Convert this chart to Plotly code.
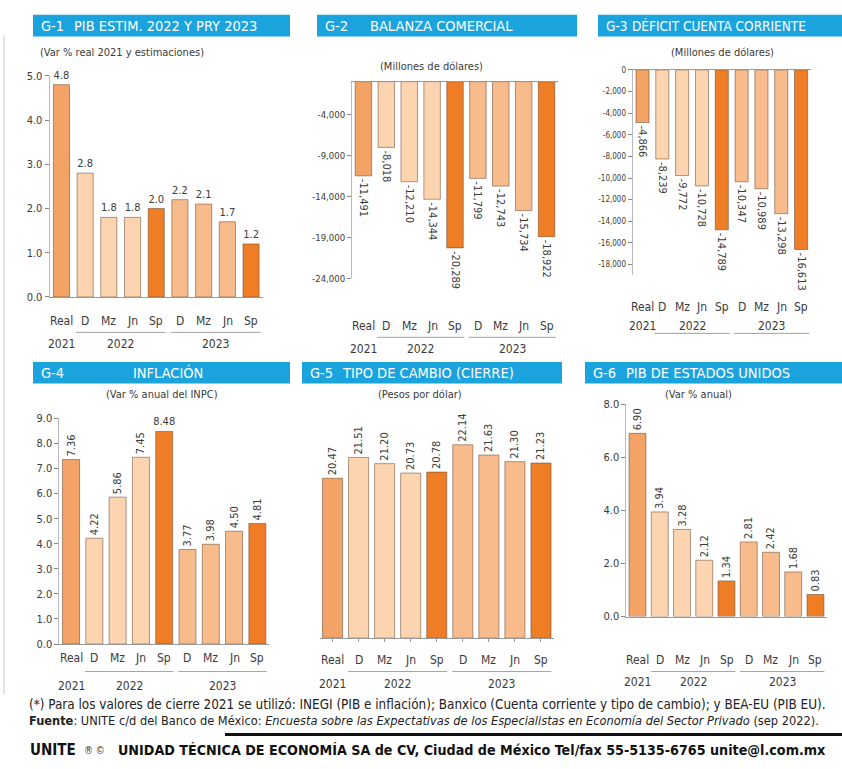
import plotly.graph_objects as go

W, H = 842, 769

# ---- data -------------------------------------------------------------
cats = ["Real", "D", "Mz", "Jn", "Sp", "D", "Mz", "Jn", "Sp"]
years = ["2021", "2022", "2023"]

pib_mx = [4.8, 2.8, 1.8, 1.8, 2.0, 2.2, 2.1, 1.7, 1.2]
balanza = [-11491, -8018, -12210, -14344, -20289, -11799, -12743, -15734, -18922]
cuenta_corriente = [-4866, -8239, -9772, -10728, -14789, -10347, -10989, -13298, -16613]
inflacion = [7.36, 4.22, 5.86, 7.45, 8.48, 3.77, 3.98, 4.50, 4.81]
tipo_cambio = [20.47, 21.51, 21.20, 20.73, 20.78, 22.14, 21.63, 21.30, 21.23]
pib_eu = [6.90, 3.94, 3.28, 2.12, 1.34, 2.81, 2.42, 1.68, 0.83]

# ---- styling ----------------------------------------------------------
FONT = "Liberation Sans Narrow, DejaVu Sans Condensed, Roboto Condensed, Roboto, sans-serif"
BLUE = "#1BA3DE"
C_REAL = "#F3A365"
C_LIGHT = "#FCD5B0"
C_MED = "#F8BC8C"
C_SP = "#EE7D26"
TXT = "#3a3a3a"
colors = [C_REAL, C_LIGHT, C_LIGHT, C_LIGHT, C_SP, C_MED, C_MED, C_MED, C_SP]


def px(x):
    return x / W


def py(y):
    return 1 - y / H


def fmt_thousands(v):
    return f"{v:,.0f}"


# panel geometry (pixel boxes) and axis settings
panels = [
    dict(vals=pib_mx, fmt=lambda v: f"{v:.1f}", xd=(49.6, 262.9), yd=(296, 71),
         yr=[0, 5], tv=[0, 1, 2, 3, 4, 5], tt=["0.0", "1.0", "2.0", "3.0", "4.0", "5.0"],
         angle=0, horiz=list(range(9)), width=0.68, cat_y=320, year_y=344, line_y=332, tfs=11),
    dict(vals=balanza, fmt=fmt_thousands, xd=(352, 558), yd=(277, 77),
         yr=[-24000, 0], tv=[-4000, -9000, -14000, -19000, -24000],
         tt=["-4,000", "-9,000", "-14,000", "-19,000", "-24,000"],
         angle=90, horiz=[], width=0.72, cat_y=325, year_y=349, line_y=337, tfs=9.5),
    dict(vals=cuenta_corriente, fmt=fmt_thousands, xd=(632.6, 811), yd=(274, 65),
         yr=[-19000, 0], tv=[0, -2000, -4000, -6000, -8000, -10000, -12000, -14000, -16000, -18000],
         tt=["0", "-2,000", "-4,000", "-6,000", "-8,000", "-10,000", "-12,000", "-14,000", "-16,000", "-18,000"],
         angle=90, horiz=[], width=0.66, cat_y=306, year_y=326, line_y=333, tfs=8),
    dict(vals=inflacion, fmt=lambda v: f"{v:.2f}", xd=(59.4, 269), yd=(649, 419.5),
         yr=[0, 9], tv=list(range(10)), tt=[f"{i}.0" for i in range(10)],
         angle=-90, horiz=[4], width=0.73, cat_y=663, year_y=692, line_y=677, tfs=11),
    dict(vals=tipo_cambio, fmt=lambda v: f"{v:.2f}", xd=(319.5, 554), yd=(643, 439),
         yr=[12.5, 22.5], tv=None, tt=None,
         angle=-90, horiz=[], width=0.77, cat_y=665, year_y=690, line_y=677, tfs=11),
    dict(vals=pib_eu, fmt=lambda v: f"{v:.2f}", xd=(626.4, 826.6), yd=(621, 405),
         yr=[0, 8], tv=[0, 2, 4, 6, 8], tt=["0.0", "2.0", "4.0", "6.0", "8.0"],
         angle=-90, horiz=[], width=0.76, cat_y=665, year_y=688, line_y=677, tfs=11),
]

fig = go.Figure()
annotations = []
shapes = []
layout_axes = {}


def note(x, y, text, size, color=TXT, xanchor="center", xref="paper", **kw):
    annotations.append(dict(x=x, y=y, xref=xref, yref="paper", text=text,
                            xanchor=xanchor, yanchor="middle", showarrow=False,
                            font=dict(family=FONT, size=size, color=color), **kw))


for k, p in enumerate(panels, start=1):
    xa = "x" if k == 1 else f"x{k}"
    ya = "y" if k == 1 else f"y{k}"
    floor = p["yr"][0] if k == 5 else 0
    idx_groups = [[i for i in range(9) if i not in p["horiz"]], p["horiz"]]
    for grp, ang in zip(idx_groups, [p["angle"], 0]):
        if not grp:
            continue
        fig.add_trace(go.Bar(
            x=grp,
            y=[p["vals"][i] - floor for i in grp],
            base=floor,
            width=p["width"],
            marker=dict(color=[colors[i] for i in grp],
                        line=dict(color="rgba(105,75,55,0.55)", width=1)),
            text=[p["fmt"](p["vals"][i]) for i in grp],
            textposition="outside",
            textangle=ang,
            constraintext="none",
            cliponaxis=False,
            textfont=dict(family=FONT, size=11, color=TXT),
            hoverinfo="skip",
            xaxis=xa, yaxis=ya,
        ))

    neg = p["yr"][1] == 0
    layout_axes["xaxis" if k == 1 else f"xaxis{k}"] = dict(
        domain=[px(p["xd"][0]), px(p["xd"][1])],
        anchor=ya, range=[-0.5, 8.5],
        showticklabels=False, showgrid=False, zeroline=False,
        showline=True, linecolor="#9a9a9a", linewidth=1,
        side="top" if neg else "bottom",
        ticks="outside" if k == 5 else "", ticklen=3, tickcolor="#999",
        tickvals=list(range(9)) if k == 5 else None,
        fixedrange=True,
    )
    yax = dict(
        domain=[py(p["yd"][0]), py(p["yd"][1])],
        anchor=xa, range=p["yr"], showgrid=False, zeroline=False, fixedrange=True,
    )
    if p["tv"] is None:
        yax.update(visible=False)
    else:
        yax.update(tickvals=p["tv"], ticktext=p["tt"], ticks="outside", ticklen=4,
                   tickcolor="#888", showline=True, linecolor="#b8b8c8", linewidth=1,
                   tickfont=dict(family=FONT, size=p["tfs"], color=TXT))
    layout_axes["yaxis" if k == 1 else f"yaxis{k}"] = yax

    # category and year labels
    for i, c in enumerate(cats):
        note(i, py(p["cat_y"]), c, 12, xref=xa)
    for yl, xc in zip(years, [0, 2.5, 6.5]):
        note(xc, py(p["year_y"]), yl, 12, xref=xa)
    for x0, x1 in [(0.6, 4.4), (4.6, 8.4)]:
        shapes.append(dict(type="line", xref=xa, yref="paper", x0=x0, x1=x1,
                           y0=py(p["line_y"]), y1=py(p["line_y"]),
                           line=dict(color="#8a8a8a", width=0.8)))

# ---- header bars ------------------------------------------------------
headers = [
    ((33, 290, 9, 31), "G-1", "PIB ESTIM. 2022 Y PRY 2023", 72, "left", 14.5),
    ((317, 577, 9, 31), "G-2", "BALANZA COMERCIAL", 368, "left", 14.5),
    ((598, 842, 9, 31), "G-3", "DÉFICIT CUENTA CORRIENTE", 630, "left", 13.5),
    ((33, 290, 362, 384), "G-4", "INFLACIÓN", 168, "center", 14.5),
    ((302, 562, 362, 384), "G-5", "TIPO DE CAMBIO (CIERRE)", 340, "left", 14.5),
    ((585, 842, 362, 384), "G-6", "PIB DE ESTADOS UNIDOS", 624, "left", 14.5),
]
for (x0, x1, y0, y1), tag, title, tx, al, fs in headers:
    shapes.append(dict(type="rect", xref="paper", yref="paper",
                       x0=px(x0), x1=px(x1), y0=py(y1), y1=py(y0),
                       fillcolor=BLUE, line=dict(width=0), layer="below"))
    ym = py((y0 + y1) / 2)
    note(px(x0 + 6), ym, tag, fs, color="white", xanchor="left")
    note(px(tx), ym, title, fs, color="white", xanchor=al)

# ---- subtitles --------------------------------------------------------
subs = [
    ("(Var % real 2021 y estimaciones)", 38, 47, "left"),
    ("(Millones de dólares)", 431, 62, "center"),
    ("(Millones de dólares)", 722, 47, "center"),
    ("(Var % anual del INPC)", 162, 395, "center"),
    ("(Pesos por dólar)", 420, 395, "center"),
    ("(Var % anual)", 698, 395, "center"),
]
for t, x, y, al in subs:
    note(px(x), py(y), t, 11, xanchor=al)

# ---- footer -----------------------------------------------------------
note(px(27), py(711),
     "(*) Para los valores de cierre 2021 se utilizó: INEGI (PIB e inflación); "
     "Banxico (Cuenta corriente y tipo de cambio); y BEA-EU (PIB EU).",
     13.4, color="#222", xanchor="left")
note(px(27), py(727),
     "<b>Fuente</b>: UNITE c/d del Banco de México: <i>Encuesta sobre las Expectativas "
     "de los Especialistas en Economía del Sector Privado</i> (sep 2022).",
     12.7, color="#222", xanchor="left")
note(px(28), py(757), "<b>UNITE</b>", 15, color="#111", xanchor="left")
note(px(82), py(757), "® ©", 10, color="#333", xanchor="left")
note(px(116), py(757),
     "<b>UNIDAD TÉCNICA DE ECONOMÍA SA de CV, Ciudad de México Tel/fax 55-5135-6765 unite@l.com.mx</b>",
     14.2, color="#111", xanchor="left")

shapes += [
    dict(type="line", xref="paper", yref="paper", x0=px(225), x1=1, y0=py(741), y1=py(741),
         line=dict(color="#111", width=3)),
    dict(type="line", xref="paper", yref="paper", x0=px(4), x1=px(4), y0=py(700), y1=py(30),
         line=dict(color="#c8c8c8", width=1)),
]

fig.update_layout(
    width=W, height=H, margin=dict(l=0, r=0, t=0, b=0),
    paper_bgcolor="white", plot_bgcolor="white",
    showlegend=False, barmode="overlay",
    annotations=annotations, shapes=shapes,
    font=dict(family=FONT, color=TXT),
    **layout_axes,
)

fig.write_html("out.html")
